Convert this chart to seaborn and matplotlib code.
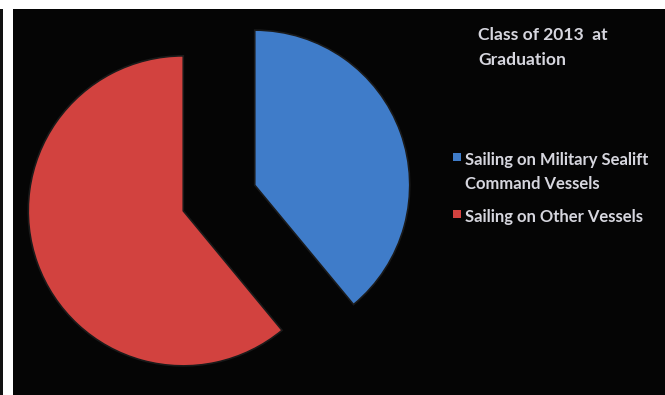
import matplotlib
matplotlib.use("Agg")
import matplotlib.pyplot as plt
from matplotlib.patches import Rectangle
import seaborn as sns

# Share of the class of 2013 at graduation
categories = ["Sailing on Military Sealift\nCommand Vessels", "Sailing on Other Vessels"]
shares = [39, 61]
title_text = "Class of 2013  at\nGraduation"

sns.set_theme(style="dark")
plt.rcParams["font.family"] = ["Lato", "DejaVu Sans"]
colors = ["#3f7cc9", "#d2423f"]
text_color = "#d6d6de"

W, H = 665, 395
fig = plt.figure(figsize=(W / 100, H / 100), dpi=100)
fig.patch.set_facecolor("white")


def fy(y_px):
    """Convert a pixel row (from the top) to figure coordinates."""
    return 1 - y_px / H


# black panel behind the chart, plus thin dark strip at the left edge
fig.add_artist(Rectangle((13 / W, 0), 1 - 13 / W, fy(9), transform=fig.transFigure,
                         facecolor="#050505", edgecolor="none", zorder=0))
fig.add_artist(Rectangle((0, 0), 3 / W, fy(9), transform=fig.transFigure,
                         facecolor="#111111", edgecolor="none", zorder=0))

# pie axes: centre at (219, 198) px, radius 155 px, limits +/-1.4
R = 155
half = 1.4 * R
cx, cy = 219, 198
ax = fig.add_axes([(cx - half) / W, (H - cy - half) / H, 2 * half / W, 2 * half / H])
ax.set_facecolor("none")
ax.patch.set_alpha(0)
wedges, _ = ax.pie(shares, colors=colors, startangle=90, counterclock=False,
                   explode=[0.245, 0.245], radius=1,
                   wedgeprops=dict(linewidth=1.2, edgecolor="#1a1a1a"))
ax.set_xlim(-1.4, 1.4)
ax.set_ylim(-1.4, 1.4)
ax.set_aspect("equal")
ax.axis("off")

# title in the upper right, one line per text with fixed baselines
for line, base in zip(title_text.split("\n"), [40, 65]):
    fig.text(478 / W, fy(base), line, color=text_color, fontsize=12.6,
             va="baseline", ha="left", fontweight="bold")

# legend entries: square marker beside the first line of each label
legend_rows = [(157, [165, 189], categories[0], colors[0]),
               (214, [222], categories[1], colors[1])]
for mark_y, bases, label, col in legend_rows:
    fig.add_artist(Rectangle((453 / W, fy(mark_y + 4)), 8 / W, 8 / H,
                             transform=fig.transFigure, facecolor=col,
                             edgecolor="none"))
    for line, base in zip(label.split("\n"), bases):
        fig.text(465 / W, fy(base), line, color=text_color, fontsize=12,
                 va="baseline", ha="left", fontweight="bold")

fig.savefig("out.png", dpi=100, facecolor=fig.get_facecolor())
